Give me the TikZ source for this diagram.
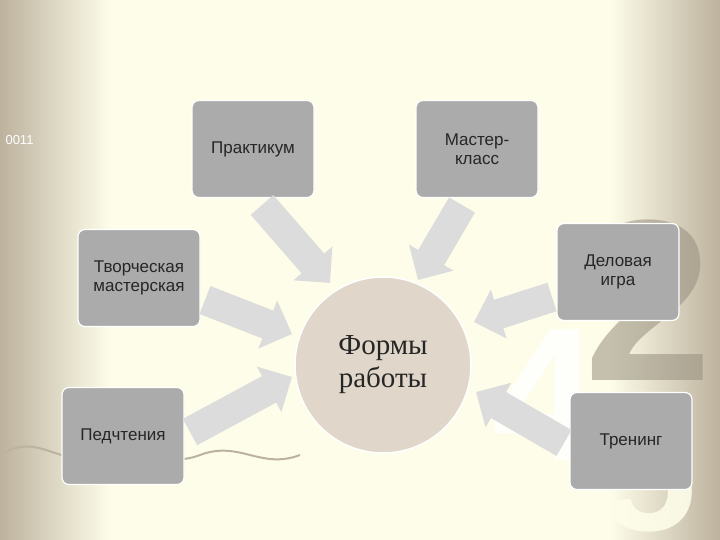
\documentclass[tikz,border=0pt]{standalone}
\usepackage{fontspec}
\setmainfont{Liberation Sans}
\newfontfamily\serifr{Liberation Serif}
\usetikzlibrary{arrows.meta}
\definecolor{edgec}{HTML}{BDB29E}
\definecolor{cream}{HTML}{FDFDE9}
\definecolor{boxc}{HTML}{ABABAB}
\definecolor{circc}{HTML}{E0D7CA}
\definecolor{arrc}{HTML}{DCDCDC}
\tikzset{
  formbox/.style={draw=white, line width=1.2pt, fill=boxc, rounded corners=7pt, minimum width=122pt, minimum height=97pt, align=center, text=black!85, font=\fontsize{17}{19}\selectfont},
  bigarrow/.style={arrc, line width=30pt, -{Triangle[length=26pt,width=50pt]}}
}
\begin{document}
\begin{tikzpicture}[x=1pt,y=-1pt]
\useasboundingbox (0,0) rectangle (720,540);
\fill[cream] (0,0) rectangle (720,540);
\shade[left color=edgec, right color=cream] (0,0) rectangle (110,540);
\shade[left color=cream, right color=edgec] (610,0) rectangle (720,540);
% background decoration
\node[text=white, font=\fontsize{13}{13}\selectfont, anchor=west] (code) at (2,140) {0011};
\node[text=edgec!80!black, font=\fontsize{230}{230}\selectfont\bfseries, opacity=0.55] (d2) at (648,300) {2};
\node[text=white, font=\fontsize{190}{190}\selectfont\bfseries, opacity=0.8] (d4) at (545,395) {4};
\node[text=cream, font=\fontsize{170}{170}\selectfont\bfseries, opacity=0.9, anchor=north] (d5) at (650,410) {5};
\draw[edgec, line width=2pt] (0,455) .. controls (40,430) and (60,470) .. (100,455) .. controls (140,440) and (160,470) .. (200,455) .. controls (240,440) and (260,470) .. (300,455);
% boxes
\node[formbox] (p) at (253,149) {Практикум};
\node[formbox] (m) at (477,149) {Мастер-\\класс};
\node[formbox] (t) at (139,278) {Творческая\\мастерская};
\node[formbox] (d) at (618,272) {Деловая\\игра};
\node[formbox] (pe) at (123,436) {Педчтения};
\node[formbox] (tr) at (631,441) {Тренинг};
% arrows
\coordinate (ap) at (330,283);
\coordinate (am) at (418,280);
\coordinate (at) at (292,334);
\coordinate (ad) at (474,322);
\coordinate (ape) at (292,377);
\coordinate (atr) at (476,392);
\draw[bigarrow] (262,205) -- (ap);
\draw[bigarrow] (462,205) -- (am);
\draw[bigarrow] (205,300) -- (at);
\draw[bigarrow] (552,297) -- (ad);
\draw[bigarrow] (190,432) -- (ape);
\draw[bigarrow] (564,443) -- (atr);
% circle
\node[circle, fill=circc, draw=white, line width=1.5pt, minimum size=176pt, align=center, text=black!85, font=\serifr\fontsize{29}{33}\selectfont] (f) at (383,365) {Формы\\работы};
\end{tikzpicture}
\end{document}
